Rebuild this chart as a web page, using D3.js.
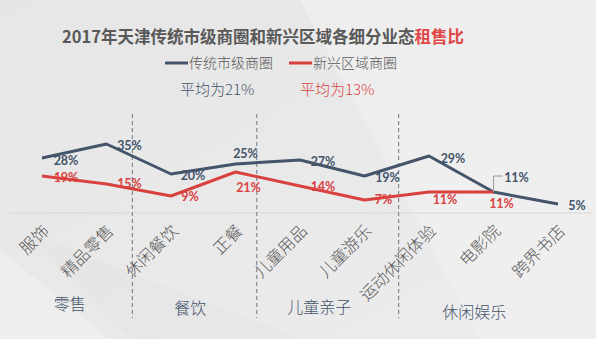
<!DOCTYPE html>
<html><head><meta charset="utf-8">
<script src="https://cdn.jsdelivr.net/npm/d3@7"></script>
<style>html,body{margin:0;padding:0;background:#e8e8e8;}svg{display:block;}</style>
</head><body>
<script>
const categories = ["服饰","精品零售","休闲餐饮","正餐","儿童用品","儿童游乐","运动休闲体验","电影院","跨界书店"];
const traditional = [28,35,20,25,27,19,29,11,5];
const emerging = [19,15,9,21,14,7,11,11,null];
const seriesNames = ["传统市级商圈","新兴区域商圈"];
const averages = ["平均为21%","平均为13%"];
const groups = ["零售","餐饮","儿童亲子","休闲娱乐"];
const groupCenters = [0.43, 2.3, 4.3, 6.7];   // in category index units
const dividers = [1.4, 3.33, 5.53];

const W = 596, H = 339;
const blue = "#44546A", red = "#D9413F";
const svg = d3.select("body").append("svg").attr("width", W).attr("height", H);

// background
const defs = svg.append("defs");
const g0 = defs.append("linearGradient").attr("id","bg").attr("x1","0").attr("y1","0").attr("x2","1").attr("y2","1");
g0.append("stop").attr("offset","0").attr("stop-color","#e6e6e6");
g0.append("stop").attr("offset","1").attr("stop-color","#ececec");
svg.append("rect").attr("width",W).attr("height",H).attr("fill","url(#bg)");
svg.append("polygon").attr("points","300,0 596,0 596,339 480,339").attr("fill","#f1f1f1").attr("opacity",0.6);
svg.append("polygon").attr("points","0,250 0,339 110,339").attr("fill","#f0f0f0").attr("opacity",0.7);
svg.append("polygon").attr("points","20,230 130,339 300,339").attr("fill","#e3e3e3").attr("opacity",0.5);

const x = d3.scalePoint().domain(categories).range([42, 558]);
const step = x.step();
const y = d3.scaleLinear().domain([0, 35]).range([214, 144]);
const xi = i => x(categories[0]) + i * step;

// title
const title = svg.append("text").attr("x", 263).attr("y", 43).attr("text-anchor","middle")
  .attr("font-family","'Noto Sans CJK SC', sans-serif").attr("font-weight","bold").attr("font-size",16.5).attr("fill","#595959");
title.append("tspan").text("2017年天津传统市级商圈和新兴区域各细分业态");
title.append("tspan").attr("fill","#E04848").text("租售比");

// legend
const legX = [165, 289];
[blue, red].forEach((c, i) => {
  svg.append("line").attr("x1", legX[i]).attr("x2", legX[i] + 23).attr("y1", 63).attr("y2", 63)
    .attr("stroke", c).attr("stroke-width", 3);
  svg.append("text").attr("x", legX[i] + 24).attr("y", 68).attr("font-family","'Noto Sans CJK SC', sans-serif")
    .attr("font-size", 14).attr("font-weight", 300).attr("fill","#595959").text(seriesNames[i]);
});
// averages
const avgX = [180, 300];
[blue, red].forEach((c, i) => {
  svg.append("text").attr("x", avgX[i]).attr("y", 95).attr("font-family","'Noto Sans CJK SC', sans-serif")
    .attr("font-size", 15).attr("font-weight", 300).attr("fill", c).text(averages[i]);
});

// baseline
svg.append("line").attr("x1", 10).attr("x2", 592).attr("y1", y(0) - 1).attr("y2", y(0) - 1)
  .attr("stroke","#d6d6d6").attr("stroke-width",1);

// dividers
dividers.forEach(d => {
  svg.append("line").attr("x1", xi(d)).attr("x2", xi(d)).attr("y1", 114).attr("y2", 318)
    .attr("stroke","#6b7585").attr("stroke-width",1).attr("stroke-dasharray","4,3");
});

// lines
const line = d3.line().defined(d => d != null).x((d, i) => x(categories[i])).y(d => y(d));
svg.append("path").datum(traditional).attr("d", line).attr("fill","none").attr("stroke", blue).attr("stroke-width", 3).attr("stroke-linejoin","round");
svg.append("path").datum(emerging).attr("d", line).attr("fill","none").attr("stroke", red).attr("stroke-width", 3).attr("stroke-linejoin","round");

// data labels (label placement offsets from point)
const blueOff = [[24,3],[23,2],[22,2],[10,-10],[23,2],[23,2],[24,3],[23,-14],[19,2]];
const redOff = [[24,2],[23,0],[19,1],[13,16],[23,1],[19,0],[16,8],[8,12]];
const lblFont = "Lato, 'Liberation Sans', sans-serif";
traditional.forEach((v, i) => {
  const px = x(categories[i]), py = y(v);
  svg.append("text").attr("x", px + blueOff[i][0]).attr("y", py + blueOff[i][1]).attr("dy","0.35em")
    .attr("text-anchor","middle").attr("font-family", lblFont).attr("font-weight","bold").attr("font-size", 12.5)
    .attr("fill", blue).text(v + "%");
});
// leader line for 电影院
{
  const i = 7, px = x(categories[i]), py = y(traditional[i]);
  svg.append("path").attr("d", `M${px},${py} V${py - 16} H${px + 9}`).attr("fill","none").attr("stroke","#9a9a9a").attr("stroke-width",1);
}
emerging.forEach((v, i) => {
  if (v == null) return;
  const px = x(categories[i]), py = y(v);
  svg.append("text").attr("x", px + redOff[i][0]).attr("y", py + redOff[i][1]).attr("dy","0.35em")
    .attr("text-anchor","middle").attr("font-family", lblFont).attr("font-weight","bold").attr("font-size", 12.5)
    .attr("fill", red).text(v + "%");
});

// category labels
categories.forEach(c => {
  svg.append("text").attr("transform", `translate(${x(c) + 4},${228}) rotate(-45)`)
    .attr("text-anchor","end").attr("dy","0.35em")
    .attr("font-family","'Noto Sans CJK SC', sans-serif").attr("font-size", 16.5).attr("font-weight", 300).attr("fill","#595959").text(c);
});

// group labels
const groupY = [304, 308, 307, 312];
groups.forEach((g, i) => {
  svg.append("text").attr("x", xi(groupCenters[i])).attr("y", groupY[i]).attr("dy","0.35em").attr("text-anchor","middle")
    .attr("font-family","'Noto Sans CJK SC', sans-serif").attr("font-size", 16).attr("font-weight", 300).attr("fill", blue).text(g);
});
</script>
</body></html>
